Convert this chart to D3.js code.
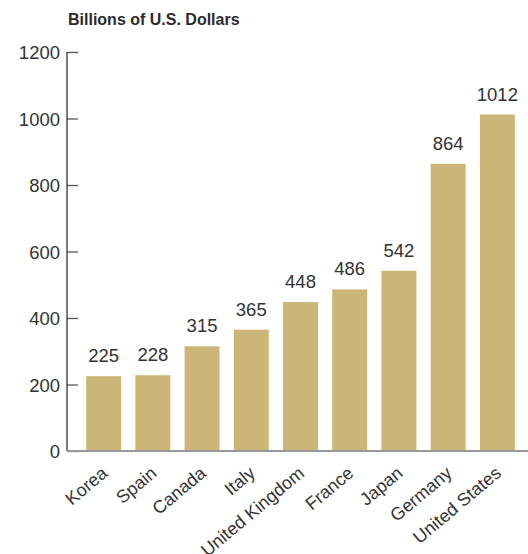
<!DOCTYPE html>
<html>
<head>
<meta charset="utf-8">
<script src="https://cdn.jsdelivr.net/npm/d3@7"></script>
<style>
  html, body { margin: 0; padding: 0; background: #fff; }
  svg { display: block; }
</style>
</head>
<body>
<svg id="chart" width="528" height="554"></svg>
<script>
// Countries and their values (billions of U.S. dollars)
const countries = ["Korea", "Spain", "Canada", "Italy", "United Kingdom", "France", "Japan", "Germany", "United States"];
const values = [225, 228, 315, 365, 448, 486, 542, 864, 1012];
const yTicks = [0, 200, 400, 600, 800, 1000, 1200];
const title = "Billions of U.S. Dollars";

const svg = d3.select("#chart");
const axisX = 67, baseY = 451, topY = 52;
const font = "'Liberation Sans', Arial, sans-serif";

const x = d3.scaleBand()
  .domain(countries)
  .range([79, 522])
  .paddingInner(0.29)
  .paddingOuter(0.145);

const y = d3.scaleLinear()
  .domain([0, 1200])
  .range([baseY, topY]);

// Title
svg.append("text")
  .attr("x", 68)
  .attr("y", 25)
  .attr("font-family", "'Liberation Sans Narrow', 'Liberation Sans', Arial, sans-serif")
  .attr("font-weight", "bold")
  .attr("font-size", 16)
  .attr("fill", "#2b2b2b")
  .text(title);

// Bars
svg.append("g").selectAll("rect")
  .data(countries)
  .join("rect")
  .attr("x", d => x(d))
  .attr("width", x.bandwidth())
  .attr("y", (d, i) => y(values[i]))
  .attr("height", (d, i) => y(0) - y(values[i]))
  .attr("fill", "#cbb677");

// Value labels
svg.append("g").selectAll("text")
  .data(countries)
  .join("text")
  .attr("x", d => x(d) + x.bandwidth() / 2)
  .attr("y", (d, i) => y(values[i]) - 14)
  .attr("text-anchor", "middle")
  .attr("font-family", font)
  .attr("font-size", 18.5)
  .attr("fill", "#333")
  .text((d, i) => values[i]);

// Y axis with inward ticks
const yAxis = d3.axisRight(y)
  .tickValues(yTicks)
  .tickSize(11)
  .tickPadding(0)
  .tickFormat(d3.format("d"));

const gy = svg.append("g")
  .attr("transform", `translate(${axisX},0)`)
  .call(yAxis);
gy.select(".domain").remove();
gy.selectAll(".tick line").attr("stroke", "#555").attr("stroke-width", 1.3);
gy.selectAll(".tick text")
  .attr("x", -7)
  .attr("dy", "0.36em")
  .attr("text-anchor", "end")
  .attr("font-family", font)
  .attr("font-size", 18.5)
  .attr("fill", "#333");

// Vertical axis line
svg.append("line")
  .attr("x1", axisX).attr("x2", axisX)
  .attr("y1", topY).attr("y2", baseY)
  .attr("stroke", "#333")
  .attr("stroke-width", 1.3);

// Baseline
svg.append("line")
  .attr("x1", axisX).attr("x2", 528)
  .attr("y1", baseY).attr("y2", baseY)
  .attr("stroke", "#999")
  .attr("stroke-width", 2);

// Rotated category labels
svg.append("g").selectAll("text")
  .data(countries)
  .join("text")
  .attr("transform", d => `translate(${x(d) + x.bandwidth() / 2 + 5},${baseY + 24}) rotate(-40)`)
  .attr("text-anchor", "end")
  .attr("font-family", font)
  .attr("font-size", 18)
  .attr("fill", "#333")
  .text(d => d);
</script>
</body>
</html>
